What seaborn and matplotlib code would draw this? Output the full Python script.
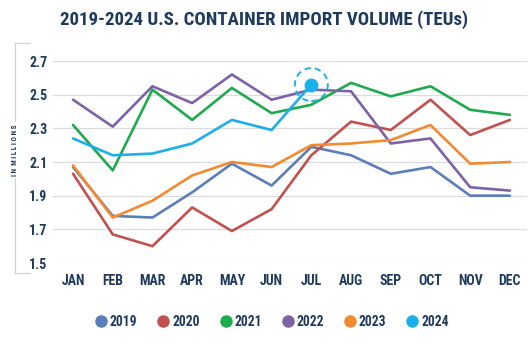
import matplotlib
matplotlib.use("Agg")
import matplotlib.pyplot as plt
from matplotlib.patches import Circle
from matplotlib.lines import Line2D
from matplotlib.transforms import IdentityTransform, ScaledTranslation
from matplotlib import font_manager
import seaborn as sns
import pandas as pd

months = ["JAN", "FEB", "MAR", "APR", "MAY", "JUN",
          "JUL", "AUG", "SEP", "OCT", "NOV", "DEC"]
years = ["2019", "2020", "2021", "2022", "2023", "2024"]

v2019 = [2.07, 1.78, 1.77, 1.92, 2.09, 1.96, 2.19, 2.14, 2.03, 2.07, 1.90, 1.90]
v2020 = [2.03, 1.67, 1.60, 1.83, 1.69, 1.82, 2.14, 2.34, 2.29, 2.47, 2.26, 2.35]
v2021 = [2.32, 2.05, 2.53, 2.35, 2.54, 2.39, 2.44, 2.57, 2.49, 2.55, 2.41, 2.38]
v2022 = [2.47, 2.31, 2.55, 2.45, 2.62, 2.47, 2.53, 2.52, 2.21, 2.24, 1.95, 1.93]
v2023 = [2.08, 1.77, 1.87, 2.02, 2.10, 2.07, 2.20, 2.21, 2.23, 2.32, 2.09, 2.10]
v2024 = [2.24, 2.14, 2.15, 2.21, 2.35, 2.29, 2.56]

palette = {"2019": "#5b7db8", "2020": "#c2504e", "2021": "#1faa4f",
           "2022": "#7d62a6", "2023": "#f28a30", "2024": "#1cb0ea"}
navy = "#1e3a5c"

series = dict(zip(years, [v2019, v2020, v2021, v2022, v2023, v2024]))
rows = []
for yr, vals in series.items():
    for i, v in enumerate(vals):
        rows.append({"year": yr, "month": i, "teu": v})
df = pd.DataFrame(rows)

# prefer a condensed sans if one is available
installed = {f.name for f in font_manager.fontManager.ttflist}
face = next((n for n in ["Roboto Condensed", "Liberation Sans Narrow",
                         "Noto Sans Condensed", "Open Sans Condensed", "Roboto"]
             if n in installed), "DejaVu Sans")

sns.set_theme(style="white")
plt.rcParams["font.family"] = [face, "DejaVu Sans"]

fig = plt.figure(figsize=(5.28, 3.49), dpi=100)
W, H = 528, 349
ax = fig.add_axes([53 / W, (H - 263) / H, (527 - 53) / W, 202 / H])

sns.lineplot(data=df, x="month", y="teu", hue="year", palette=palette,
             linewidth=1.9, ax=ax, legend=False, sort=False)
for ln in ax.lines:
    ln.set_clip_on(False)

ax.set_xlim(-0.504, 11.43)
ax.set_ylim(1.5, 2.7)
yticks = [1.5, 1.7, 1.9, 2.1, 2.3, 2.5, 2.7]
ax.set_yticks(yticks)
ax.set_yticklabels([f"{t:.1f}" for t in yticks])
ax.set_xticks(range(12))
ax.set_xticklabels(months)
ax.grid(axis="y", color="#dcdcdc", linewidth=0.9)
ax.set_axisbelow(True)
for s in ax.spines.values():
    s.set_visible(False)
ax.tick_params(axis="both", length=0, labelsize=10, colors=navy, pad=4)
ax.tick_params(axis="x", pad=8)
for lab in ax.get_xticklabels() + ax.get_yticklabels():
    lab.set_fontweight("bold")
ax.set_xlabel("")
ax.set_ylabel("")

# highlight the latest 2024 month with a dot and a dashed ring
jx, jy = len(v2024) - 1, v2024[-1]
ax.plot([jx], [jy], "o", color=palette["2024"], markersize=9, clip_on=False, zorder=5)
ring_tr = IdentityTransform() + ScaledTranslation(jx, jy, ax.transData)
ring = Circle((0, 0), radius=16.5, transform=ring_tr, fill=False,
              edgecolor=palette["2024"], linewidth=1.4, linestyle=(0, (3.2, 2.2)),
              clip_on=False, zorder=5)
ax.add_artist(ring)

# bracket with axis caption on the left
br = "#d0d0d0"
fig.add_artist(Line2D([15 / W, 15 / W], [(H - 43) / H, (H - 273) / H], color=br, lw=0.9))
fig.add_artist(Line2D([15 / W, 30 / W], [(H - 43) / H, (H - 43) / H], color=br, lw=0.9))
fig.add_artist(Line2D([15 / W, 30 / W], [(H - 273) / H, (H - 273) / H], color=br, lw=0.9))
fig.text(15 / W, (H - 150) / H, "I N  M I L L I O N S", rotation=90, ha="center",
         va="center", fontsize=5.2, color=navy, fontweight="bold",
         bbox=dict(facecolor="white", edgecolor="none", pad=1.5))

fig.text(0.5, (H - 20) / H, "2019-2024 U.S. CONTAINER IMPORT VOLUME (TEUs)",
         ha="center", va="center", fontsize=13.6, fontweight="bold", color=navy)

handles = [Line2D([0], [0], marker="o", linestyle="none", markersize=9,
                  markerfacecolor=palette[y], markeredgecolor="none") for y in years]
leg = fig.legend(handles, years, loc="center", bbox_to_anchor=(0.513, (H - 322) / H),
                 ncol=6, frameon=False, handletextpad=0.05, columnspacing=1.3,
                 handlelength=1.2, prop={"weight": "bold", "size": 9.8})
for t in leg.get_texts():
    t.set_color(navy)

fig.savefig("out.png", dpi=100, facecolor="white")
